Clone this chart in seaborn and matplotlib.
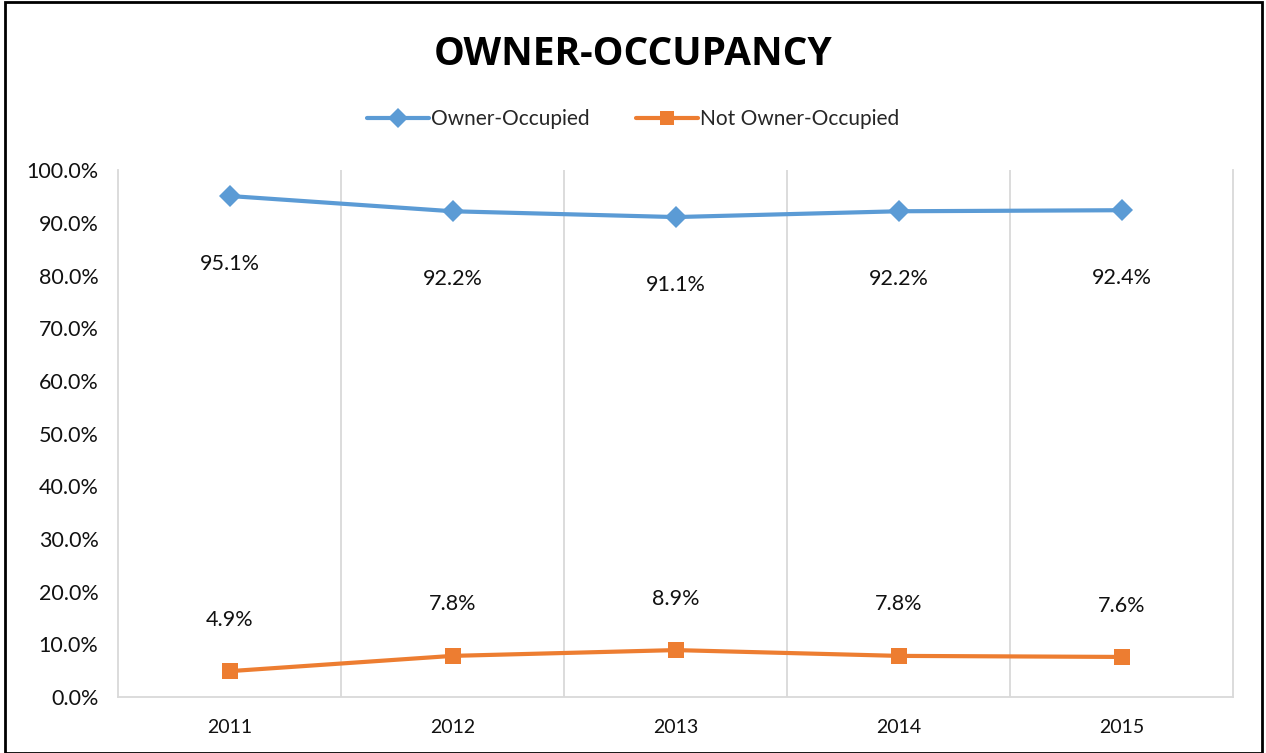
import numpy as np
import pandas as pd
import matplotlib
matplotlib.use("Agg")
import matplotlib.pyplot as plt
import seaborn as sns

years = ["2011", "2012", "2013", "2014", "2015"]
owner_occupied = [95.1, 92.2, 91.1, 92.2, 92.4]
not_owner_occupied = [4.9, 7.8, 8.9, 7.8, 7.6]
series_names = ["Owner-Occupied", "Not Owner-Occupied"]
y_ticks = [0, 10, 20, 30, 40, 50, 60, 70, 80, 90, 100]

sns.set_theme(style="white")
plt.rcParams['font.family'] = ['Lato', 'DejaVu Sans']

data = pd.DataFrame({
    'year': years * 2,
    'pos': list(range(len(years))) * 2,
    'value': owner_occupied + not_owner_occupied,
    'series': [series_names[0]] * len(years) + [series_names[1]] * len(years),
})

colors = {series_names[0]: '#5B9BD5', series_names[1]: '#ED7D31'}
markers = {series_names[0]: 'D', series_names[1]: 's'}

fig = plt.figure(figsize=(12.66, 7.53), dpi=100)
ax = fig.add_axes([0.0932, 0.0744, 0.8808, 0.6996])

sns.lineplot(data=data, x='pos', y='value', hue='series', style='series',
             palette=colors, markers=markers, dashes=False, linewidth=3,
             markersize=11, markeredgewidth=0, ax=ax, legend=False)

# data labels
for i, v in enumerate(owner_occupied):
    ax.annotate(f"{v:.1f}%", (i, v), xytext=(0, -49), textcoords='offset points',
                ha='center', va='center', fontsize=15.5, color='#111111')
for i, v in enumerate(not_owner_occupied):
    ax.annotate(f"{v:.1f}%", (i, v), xytext=(0, 37), textcoords='offset points',
                ha='center', va='center', fontsize=15.5, color='#111111')

ax.set_xlim(-0.5, len(years) - 0.5)
ax.set_ylim(0, 100)
ax.set_yticks(y_ticks)
ax.set_yticklabels([f"{t:.1f}%" for t in y_ticks], fontsize=15.5, color='#111111')
ax.set_xticks(range(len(years)))
ax.set_xticklabels(years, fontsize=14, color='#111111')
ax.tick_params(axis='x', length=0, pad=16)
ax.tick_params(axis='y', length=0, pad=14)
ax.set_xlabel('')
ax.set_ylabel('')

# vertical category gridlines
for b in np.arange(0.5, len(years) - 0.5, 1):
    ax.axvline(b, color='#D9D9D9', linewidth=1.3, zorder=0)
ax.spines['top'].set_visible(False)
for side in ['left', 'right', 'bottom']:
    ax.spines[side].set_color('#D9D9D9')
    ax.spines[side].set_linewidth(1.3)

fig.text(0.5, 0.927, "OWNER-OCCUPANCY", ha='center', va='center',
         fontsize=28, fontweight='bold', color='black', fontfamily='Open Sans')

handles = [
    plt.Line2D([], [], color=colors[s], marker=markers[s], linewidth=3,
               markersize=10, markeredgewidth=0) for s in series_names
]
fig.legend(handles, series_names, loc='center', bbox_to_anchor=(0.5, 0.842),
           ncol=2, frameon=False, fontsize=15, handlelength=3.0,
           handletextpad=0.1, columnspacing=2.2)

# outer border
fig.patches.append(plt.Rectangle((0.004, 0.0), 0.993, 0.997, transform=fig.transFigure,
                                 fill=False, edgecolor='black', linewidth=2))

fig.savefig('out.png', dpi=100)
